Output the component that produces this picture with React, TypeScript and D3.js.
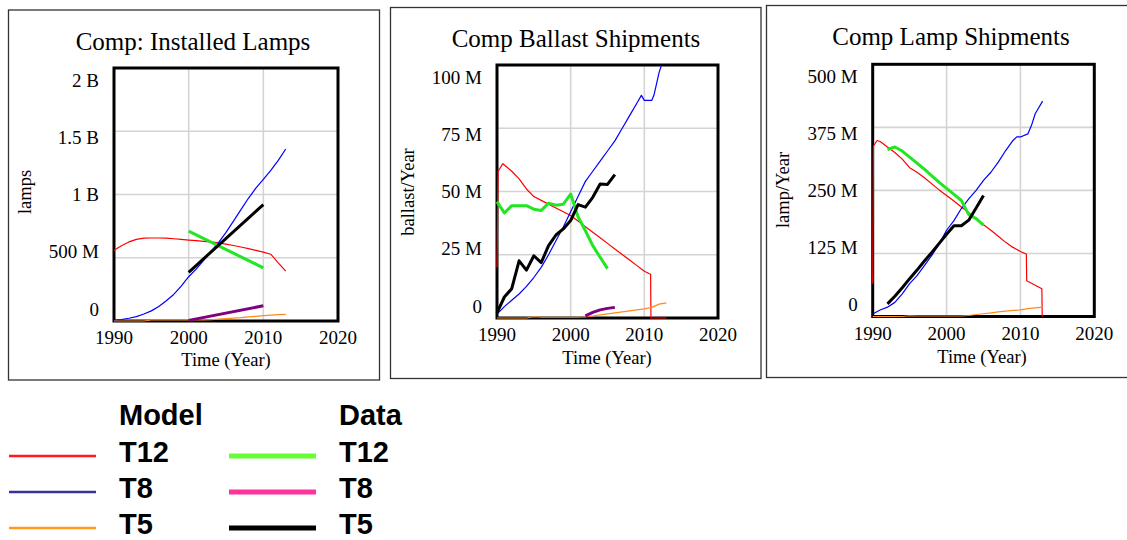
import React from 'react';
import * as d3 from 'd3';

// ---------- shared ----------
const xTicks = [1990, 2000, 2010, 2020];
const annualYears = [1990, 1991, 1992, 1993, 1994, 1995, 1996, 1997, 1998, 1999, 2000, 2001, 2002, 2003, 2004, 2005, 2006, 2007, 2008, 2009, 2010, 2011, 2012, 2013];

// ---------- Panel 1: Installed lamps (millions) ----------
const instTicks = [0, 500, 1000, 1500, 2000];
const instTickLabels = ['0', '500 M', '1 B', '1.5 B', '2 B'];
const instModelT12 = [560, 595, 625, 645, 655, 656, 656, 655, 650, 645, 640, 635, 630, 625, 617, 607, 597, 585, 572, 558, 545, 528, 460, 395];
const instModelT8 = [5, 12, 22, 35, 55, 80, 115, 160, 210, 275, 350, 410, 480, 550, 620, 700, 790, 880, 970, 1050, 1120, 1190, 1270, 1360];
const instModelT5 = [0, 0, 0, 0, 0, 8, 8, 8, 8, 8, 8, 8, 8, 10, 15, 18, 22, 26, 32, 37, 42, 46, 50, 52];
const instDataYears = [2000, 2010];
const instDataT12 = [710, 420];
const instDataT8 = [5, 120];
const instDataT5 = [385, 920];

// ---------- Panel 2: Ballast shipments (millions / year) ----------
const ballTicks = [0, 25, 50, 75, 100];
const ballTickLabels = ['0', '25 M', '50 M', '75 M', '100 M'];
const ballT12Years = [1990, 1990.15, 1990.8, 1991, 1992, 1993, 1994, 1995, 1996, 1997, 1998, 1999, 2000, 2001, 2002, 2003, 2004, 2005, 2006, 2007, 2008, 2009, 2010, 2010.85, 2010.9, 2013];
const ballModelT12 = [20, 58, 61, 60.5, 58, 55, 51, 48, 46.5, 45, 43.5, 42, 40.5, 38.3, 36.1, 33.9, 31.7, 29.5, 27.3, 25.1, 22.9, 20.7, 18.5, 17.3, 0, 0];
const ballT8Years = [1990, 1991, 1992, 1993, 1994, 1995, 1996, 1997, 1998, 1999, 2000, 2001, 2002, 2003, 2004, 2005, 2006, 2007, 2008, 2009, 2009.6, 2010, 2011, 2011.3, 2012, 2013];
const ballModelT8 = [1.5, 4.5, 7, 9.5, 12.5, 16, 20, 25, 30.5, 36, 42, 48, 54, 58, 62, 66, 70, 75, 80, 85, 88, 86, 86, 88, 97, 106];
const ballModelT5 = [0, 0, 0, 0, 0, 0.5, 0.3, 0.3, 0.3, 0.3, 0.3, 0.3, 0.4, 0.8, 1.2, 1.6, 2.0, 2.4, 2.8, 3.2, 3.6, 4.2, 5.5, 6];
const ballDataT12Years = [1990, 1991, 1992, 1993, 1994, 1995, 1996, 1997, 1998, 1999, 2000, 2001, 2002, 2003, 2004, 2005];
const ballDataT12 = [46, 41.5, 44.4, 44.4, 44.4, 43, 42.5, 45.4, 44.6, 45, 49, 40, 34.5, 28.6, 24, 19.5];
const ballDataT5Years = [1990, 1991, 1992, 1993, 1994, 1995, 1996, 1997, 1998, 1999, 2000, 2001, 2002, 2003, 2004, 2005, 2006];
const ballDataT5 = [2, 8.3, 11.6, 22.6, 18.9, 24.6, 21.9, 28.6, 32.8, 35.2, 38.5, 44.8, 43.8, 47.7, 53, 52.8, 56.7];
const ballDataT8Years = [2002, 2003, 2004, 2005, 2006];
const ballDataT8 = [0.8, 2.2, 3.2, 3.8, 4.2];

// ---------- Panel 3: Lamp shipments (millions / year) ----------
const lampTicks = [0, 125, 250, 375, 500];
const lampTickLabels = ['0', '125 M', '250 M', '375 M', '500 M'];
const lampT12Years = [1990, 1990.1, 1990.6, 1991, 1992, 1993, 1994, 1995, 1996, 1997, 1998, 1999, 2000, 2001, 2002, 2003, 2004, 2005, 2006, 2007, 2008, 2009, 2010, 2010.8, 2010.85, 2012.9, 2012.95];
const lampModelT12 = [65, 338, 349, 347, 336, 325, 312, 295, 286, 275, 263, 251, 240, 229, 217, 206, 194, 182, 171, 159, 147, 137, 129, 124, 71, 55, 0];
const lampT8Years = [1990, 1991, 1992, 1993, 1994, 1995, 1996, 1997, 1998, 1999, 2000, 2001, 2002, 2003, 2004, 2005, 2006, 2007, 2008, 2009, 2009.5, 2010, 2011, 2011.5, 2012, 2013];
const lampModelT8 = [5, 13, 18.5, 28, 45, 65, 81, 101, 121, 144, 171, 190, 214, 233, 250, 270, 286, 306, 329, 349, 356, 356, 362, 379, 402, 427];
const lampModelT5 = [0, 0, 0, 0, 0, 1.5, 1, 1, 1, 1, 1, 1, 1, 2, 4, 5.5, 7, 9, 10.5, 12, 13, 15.5, 17, 18.5];
const lampDataYears = [1992, 1993, 1994, 1995, 1996, 1997, 1998, 1999, 2000, 2001, 2002, 2003, 2004, 2005];
const lampDataT12 = [331, 336, 328, 316, 304, 292, 279, 266, 254, 242, 230, 202, 194, 181];
const lampDataT5 = [25, 40, 57, 75, 92, 110, 127, 145, 163, 180, 180, 191, 215, 240];

// ---------- legend ----------
const legendRows = ['T12', 'T8', 'T5'];
const legendModelColors = ['#ff1a1a', '#333399', '#ff9a1a'];
const legendDataColors = ['#66ff33', '#ff3399', '#000000'];

const C = {
  red: '#ff0000', blue: '#0000ff', orange: '#ff8a1a', green: '#22e622', purple: '#800080', black: '#000000',
};

type Series = { years: number[]; values: number[]; color: string; width: number };
type PanelCfg = {
  id: string; title: string; yTitle: string; max: number; ticks: number[]; tickLabels: string[];
  border: { x: number; y: number; w: number; h: number };
  l: number; r: number; t: number; b: number;
  titleX: number; titleY: number; yTitleX: number; yTitleY: number;
  xTitleX: number; xTitleY: number; xTickY: number;
  series: Series[];
};

const panels: PanelCfg[] = [
  {
    id: 'p1', title: 'Comp: Installed Lamps', yTitle: 'lamps', max: 2000, ticks: instTicks, tickLabels: instTickLabels,
    border: { x: 8.5, y: 10, w: 371, h: 370 }, l: 114, r: 338, t: 68, b: 321,
    titleX: 193, titleY: 50, yTitleX: 25, yTitleY: 192, xTitleX: 226, xTitleY: 366, xTickY: 344,
    series: [
      { years: annualYears, values: instModelT12, color: C.red, width: 1.2 },
      { years: annualYears, values: instModelT8, color: C.blue, width: 1.2 },
      { years: annualYears, values: instModelT5, color: C.orange, width: 1.2 },
      { years: instDataYears, values: instDataT12, color: C.green, width: 3 },
      { years: instDataYears, values: instDataT8, color: C.purple, width: 3 },
      { years: instDataYears, values: instDataT5, color: C.black, width: 3 },
    ],
  },
  {
    id: 'p2', title: 'Comp Ballast Shipments', yTitle: 'ballast/Year', max: 100, ticks: ballTicks, tickLabels: ballTickLabels,
    border: { x: 390.5, y: 7.5, w: 370.5, h: 371 }, l: 497, r: 718, t: 65, b: 318,
    titleX: 576, titleY: 47, yTitleX: 408, yTitleY: 192, xTitleX: 607, xTitleY: 364, xTickY: 341,
    series: [
      { years: ballT12Years, values: ballModelT12, color: C.red, width: 1.2 },
      { years: ballT8Years, values: ballModelT8, color: C.blue, width: 1.2 },
      { years: annualYears, values: ballModelT5, color: C.orange, width: 1.2 },
      { years: ballDataT12Years, values: ballDataT12, color: C.green, width: 3 },
      { years: ballDataT8Years, values: ballDataT8, color: C.purple, width: 3 },
      { years: ballDataT5Years, values: ballDataT5, color: C.black, width: 3 },
    ],
  },
  {
    id: 'p3', title: 'Comp Lamp Shipments', yTitle: 'lamp/Year', max: 500, ticks: lampTicks, tickLabels: lampTickLabels,
    border: { x: 766.5, y: 5.5, w: 400, h: 372 }, l: 872.7, r: 1094.3, t: 64.3, b: 316.5,
    titleX: 951, titleY: 45, yTitleX: 783, yTitleY: 190, xTitleX: 982, xTitleY: 363, xTickY: 340,
    series: [
      { years: lampT12Years, values: lampModelT12, color: C.red, width: 1.2 },
      { years: lampT8Years, values: lampModelT8, color: C.blue, width: 1.2 },
      { years: annualYears, values: lampModelT5, color: C.orange, width: 1.2 },
      { years: lampDataYears, values: lampDataT12, color: C.green, width: 3 },
      { years: lampDataYears, values: lampDataT5, color: C.black, width: 3 },
    ],
  },
];

const SERIF = '"Liberation Serif", "Times New Roman", serif';
const SANS = '"Liberation Sans", Arial, sans-serif';

function Panel({ cfg }: { cfg: PanelCfg }) {
  const x = d3.scaleLinear().domain([1990, 2020]).range([cfg.l, cfg.r]);
  const y = d3.scaleLinear().domain([0, cfg.max]).range([cfg.b, cfg.t]);
  const yLab = d3.scaleLinear().domain([0, cfg.max]).range([cfg.b - 12, cfg.t + 12]);
  const line = d3.line<[number, number]>().x((d) => x(d[0])).y((d) => y(d[1]));
  return (
    <g>
      <rect x={cfg.border.x} y={cfg.border.y} width={cfg.border.w} height={cfg.border.h} fill="none" stroke="#333" strokeWidth={1.3} />
      <defs>
        <clipPath id={`clip-${cfg.id}`}>
          <rect x={cfg.l - 2} y={cfg.t} width={cfg.r - cfg.l + 4} height={cfg.b - cfg.t + 2} />
        </clipPath>
      </defs>
      <text x={cfg.titleX} y={cfg.titleY} textAnchor="middle" fontFamily={SERIF} fontSize={25} fill="#000">{cfg.title}</text>
      {xTicks.slice(1, -1).map((t) => (
        <line key={`gx${t}`} x1={x(t)} x2={x(t)} y1={cfg.t} y2={cfg.b} stroke="#d4d4d4" strokeWidth={1.6} />
      ))}
      {cfg.ticks.slice(1, -1).map((t) => (
        <line key={`gy${t}`} x1={cfg.l} x2={cfg.r} y1={y(t)} y2={y(t)} stroke="#d4d4d4" strokeWidth={1.6} />
      ))}
      <rect x={cfg.l} y={cfg.t} width={cfg.r - cfg.l} height={cfg.b - cfg.t} fill="none" stroke="#000" strokeWidth={3} />
      <g clipPath={`url(#clip-${cfg.id})`}>
        {cfg.series.map((s, i) => (
          <path key={i} d={line(s.years.map((yr, j) => [yr, s.values[j]] as [number, number])) || ''} fill="none" stroke={s.color} strokeWidth={s.width} strokeLinejoin="round" />
        ))}
      </g>
      {cfg.ticks.map((t, i) => (
        <text key={`yl${t}`} x={cfg.l - 15} y={yLab(t)} dy="0.35em" textAnchor="end" fontFamily={SERIF} fontSize={19} fill="#000">{cfg.tickLabels[i]}</text>
      ))}
      {xTicks.map((t) => (
        <text key={`xl${t}`} x={x(t)} y={cfg.xTickY} textAnchor="middle" fontFamily={SERIF} fontSize={19} fill="#000">{t}</text>
      ))}
      <text x={cfg.xTitleX} y={cfg.xTitleY} textAnchor="middle" fontFamily={SERIF} fontSize={18.5} fill="#000">Time (Year)</text>
      <text transform={`translate(${cfg.yTitleX},${cfg.yTitleY}) rotate(-90)`} textAnchor="middle" dy="0.3em" fontFamily={SERIF} fontSize={18.5} fill="#000">{cfg.yTitle}</text>
    </g>
  );
}

function Legend() {
  const rowY = d3.scaleLinear().domain([0, 1]).range([456, 492]);
  return (
    <g fontFamily={SANS} fontWeight="bold" fontSize={29} fill="#000">
      <text x={119} y={425}>Model</text>
      <text x={339} y={425}>Data</text>
      {legendRows.map((r, i) => (
        <g key={r}>
          <line x1={9} x2={96} y1={rowY(i)} y2={rowY(i)} stroke={legendModelColors[i]} strokeWidth={2.6} />
          <text x={119} y={rowY(i) + 5.5}>{r}</text>
          <line x1={229} x2={316} y1={rowY(i)} y2={rowY(i)} stroke={legendDataColors[i]} strokeWidth={5} />
          <text x={339} y={rowY(i) + 5.5}>{r}</text>
        </g>
      ))}
    </g>
  );
}

export default function App() {
  return (
    <svg width={1127} height={540} style={{ position: 'absolute', left: 0, top: 0, background: '#fff' }}>
      <rect x={0} y={0} width={1127} height={540} fill="#fff" />
      {panels.map((p) => <Panel key={p.id} cfg={p} />)}
      <Legend />
    </svg>
  );
}
